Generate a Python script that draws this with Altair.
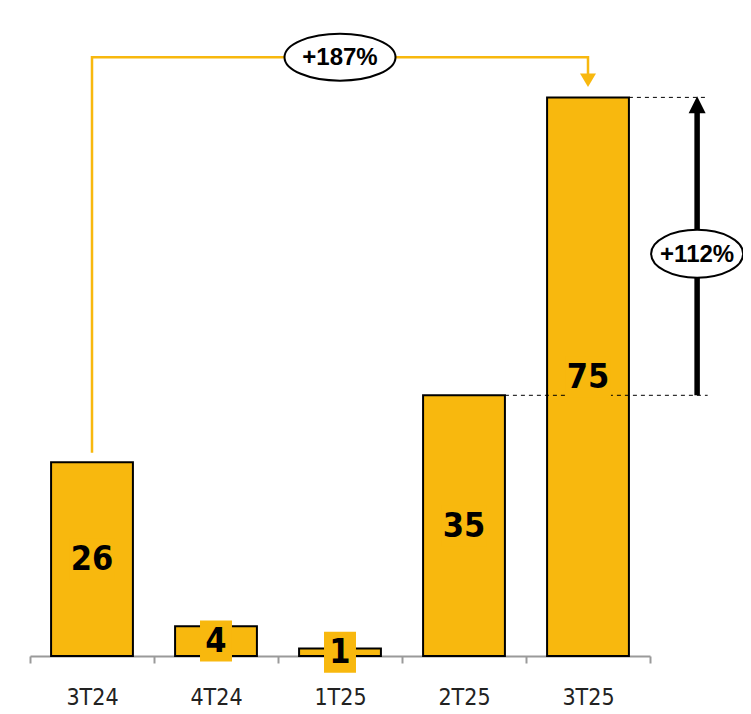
import altair as alt
import pandas as pd

# ---- data ----
categories = ["3T24", "4T24", "1T25", "2T25", "3T25"]
values = [26, 4, 1, 35, 75]
growth_labels = ["+187%", "+112%"]
growth_from = ["3T24", "2T25"]
growth_to = ["3T25", "3T25"]

BAR = "#F8B80E"
NARROW = "Liberation Sans Narrow, DejaVu Sans Condensed, Liberation Sans, sans-serif"
WIDE = "Liberation Sans, Arial, sans-serif"
YMAX = 87
n = len(categories)
idx = {c: i for i, c in enumerate(categories)}
val = dict(zip(categories, values))

bars_df = pd.DataFrame({"cat": categories, "val": values})
bars_df["mid"] = bars_df["val"] / 2
bars_df["lbl"] = bars_df["val"].astype(str)
bars_df["box"] = [
    "M-0.78,-1L0.78,-1L0.78,1L-0.78,1Z" if len(s) == 1 else "M-1.12,-1L1.12,-1L1.12,1L-1.12,1Z"
    for s in bars_df["lbl"]
]

xb = alt.X("cat:N", sort=categories,
           scale=alt.Scale(paddingInner=0, paddingOuter=0),
           axis=None)
xb_axis = alt.X("cat:N", sort=categories,
                scale=alt.Scale(paddingInner=0, paddingOuter=0),
                axis=alt.Axis(title=None, labelAngle=0, tickBand="extent",
                              domainColor="#9a9a9a", tickColor="#9a9a9a",
                              domainWidth=2, tickWidth=2, tickSize=7,
                              labelFontSize=23, labelFont=NARROW,
                              labelColor="#222222", labelPadding=23,
                              labelFontWeight="normal"))
yscale = alt.Scale(domain=[0, YMAX], nice=False, zero=True)
xq_scale = alt.Scale(domain=[0, n], nice=False, zero=False)


def xq(field="x"):
    return alt.X(f"{field}:Q", scale=xq_scale, axis=None)


def yq(field="y"):
    return alt.Y(f"{field}:Q", scale=yscale, axis=None)


bars = alt.Chart(bars_df).mark_bar(
    width={"band": 0.66}, color=BAR, stroke="black", strokeWidth=2
).encode(x=xb_axis, y=alt.Y("val:Q", scale=yscale, axis=None))

# dashed reference lines (growth of last quarter)
src_i, dst_i = idx[growth_from[1]], idx[growth_to[1]]
arrow_x = n + 0.38
dash_df = pd.DataFrame({
    "x": [src_i + 0.5 + 0.33, dst_i + 0.5 + 0.33],
    "x2": [n + 0.465, n + 0.465],
    "y": [val[growth_from[1]], val[growth_to[1]]],
})
dashed = alt.Chart(dash_df).mark_rule(
    color="black", strokeWidth=1, strokeDash=[4, 4]
).encode(x=xq(), x2="x2:Q", y=yq())

label_bg = alt.Chart(bars_df).mark_point(
    filled=True, color=BAR, opacity=1, strokeWidth=0
).encode(x=xb, y=alt.Y("mid:Q", scale=yscale, axis=None),
         shape=alt.Shape("box:N", scale=None), size=alt.value(1681))

labels = alt.Chart(bars_df).mark_text(
    fontSize=34, fontWeight="bold", font=NARROW, baseline="middle",
    color="black", dy=1
).encode(x=xb, y=alt.Y("mid:Q", scale=yscale, axis=None), text="lbl:N")

# yellow connector from first bar to last bar
a_i, b_i = idx[growth_from[0]], idx[growth_to[0]]
top_level = 80.4
conn_df = pd.DataFrame({
    "x": [a_i + 0.5, a_i + 0.5, b_i + 0.5, b_i + 0.5],
    "y": [val[growth_from[0]] + 1.3, top_level, top_level, 78.0],
    "o": [0, 1, 2, 3],
})
connector = alt.Chart(conn_df).mark_line(
    color=BAR, strokeWidth=2.5, strokeJoin="miter"
).encode(x=xq(), y=yq(), order="o:O")

yarrow_df = pd.DataFrame({"x": [b_i + 0.5], "y": [77.3]})
yarrow = alt.Chart(yarrow_df).mark_point(
    filled=True, color=BAR, opacity=1, strokeWidth=0,
    shape="M-1,-0.85L1,-0.85L0,0.85Z", size=256
).encode(x=xq(), y=yq())

# black arrow for quarter-on-quarter growth
shaft_df = pd.DataFrame({"x": [arrow_x], "y": [val[growth_from[1]]], "y2": [73.6]})
shaft = alt.Chart(shaft_df).mark_rule(color="black", strokeWidth=5.5).encode(
    x=xq(), y=yq(), y2="y2:Q")
head_df = pd.DataFrame({"x": [arrow_x], "y": [74.0]})
head = alt.Chart(head_df).mark_point(
    filled=True, color="black", opacity=1, strokeWidth=0,
    shape="M0,-1L1,1L-1,1Z", size=289
).encode(x=xq(), y=yq())

# ellipses with growth labels
ell_df = pd.DataFrame({
    "x": [(a_i + b_i) / 2 + 0.5, arrow_x],
    "y": [top_level, 54.0],
    "lbl": growth_labels,
    "shape": ["M-1,0A1,0.423,0,1,1,1,0A1,0.423,0,1,1,-1,0Z",
              "M-1,0A1,0.52,0,1,1,1,0A1,0.52,0,1,1,-1,0Z"],
    "sz": [111 ** 2, 92 ** 2],
})
ellipses = alt.Chart(ell_df).mark_point(
    filled=True, fill="white", stroke="black", strokeWidth=2, opacity=1
).encode(x=xq(), y=yq(), shape=alt.Shape("shape:N", scale=None),
         size=alt.Size("sz:Q", scale=None))
ell_text = alt.Chart(ell_df).mark_text(
    fontSize=24, fontWeight="bold", font=WIDE, baseline="middle", color="black", dy=1
).encode(x=xq(), y=yq(), text="lbl:N")

chart = alt.layer(
    bars, dashed, label_bg, labels, connector, yarrow, shaft, head, ellipses, ell_text
).resolve_scale(x="independent").properties(
    width=620, height=648,
    autosize=alt.AutoSizeParams(type="none"),
    padding={"left": 22, "top": 0, "right": 93, "bottom": 56},
).configure_view(stroke=None)

chart.save("out.html", embed_options={"renderer": "svg", "actions": False})
